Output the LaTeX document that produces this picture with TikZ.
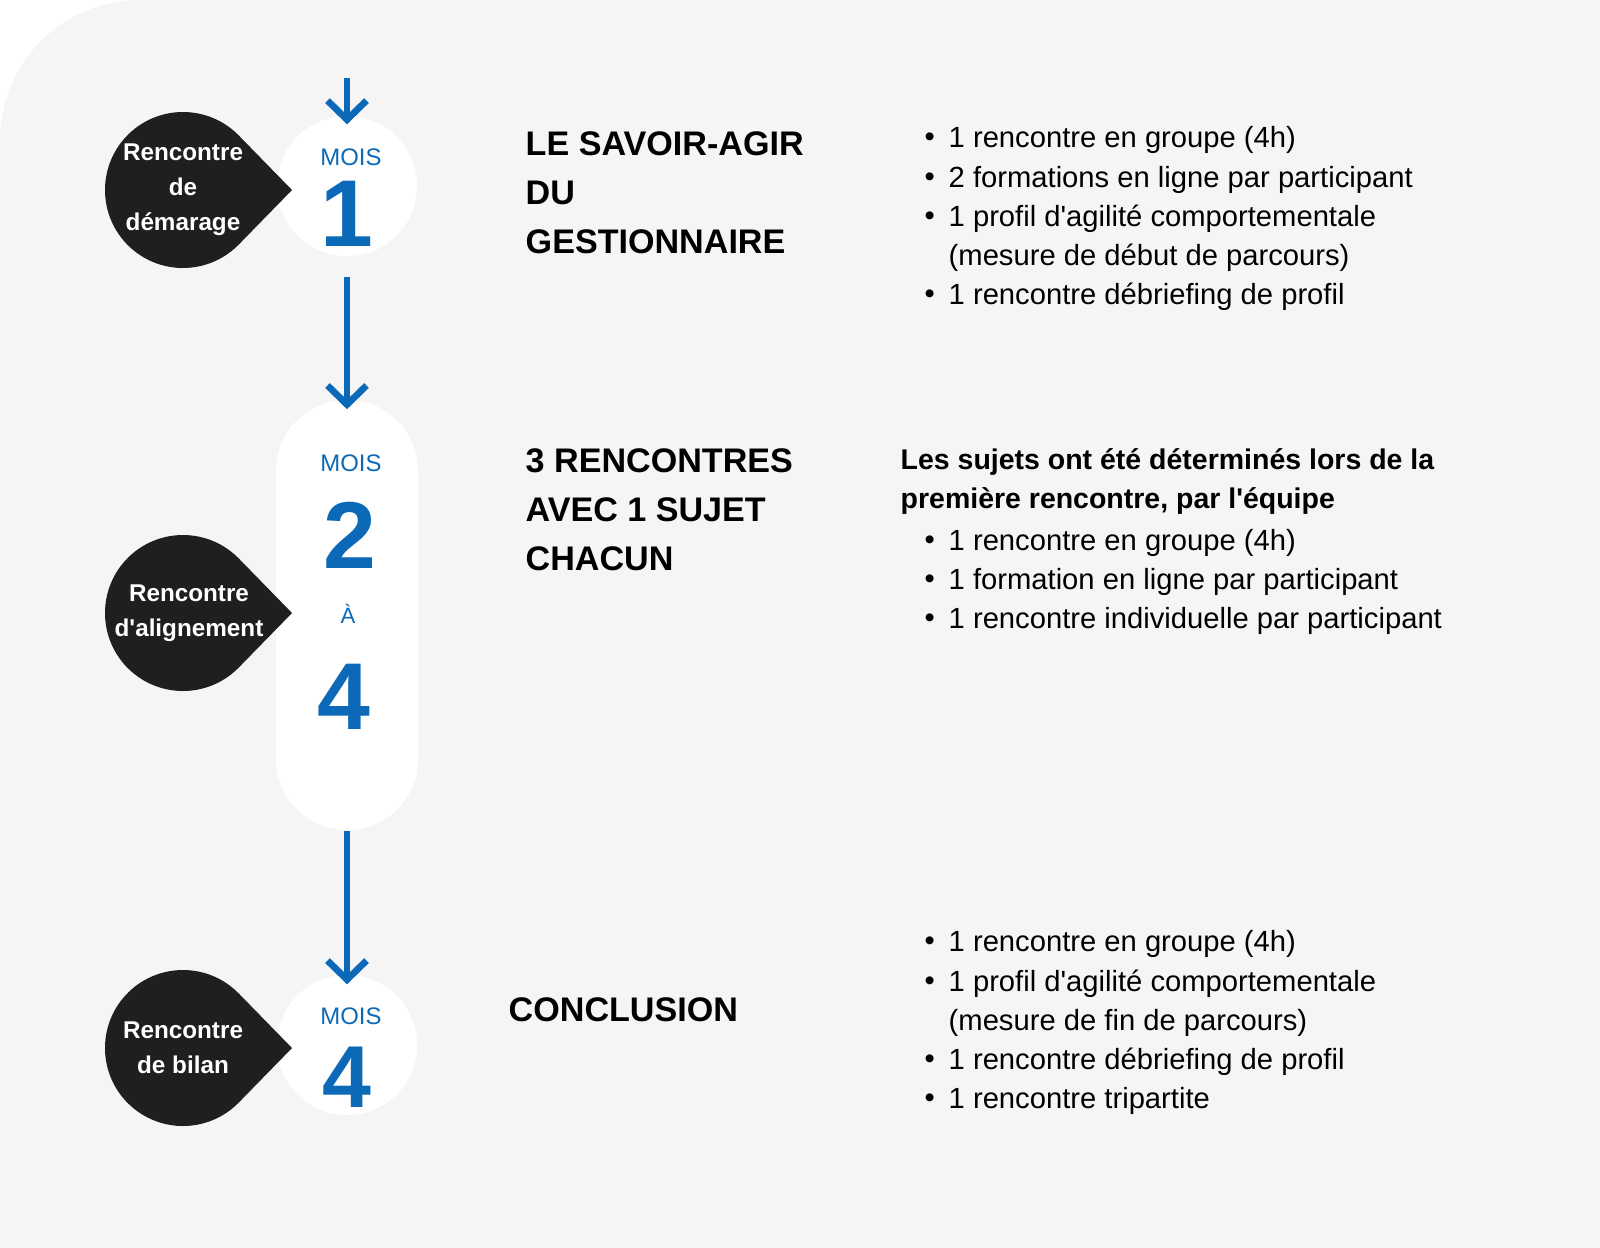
\documentclass[tikz,border=0pt]{standalone}
\usepackage{fontspec}
\setmainfont{Liberation Sans}
\usetikzlibrary{arrows.meta,calc}
\definecolor{bggray}{HTML}{F5F5F5}
\definecolor{moisblue}{HTML}{0B69B7}
\definecolor{dropdark}{HTML}{1F1F1F}
\newcommand{\apos}{\textquotesingle}
\newcommand{\dropshape}[2]{% name, y
	\fill[dropdark] (183,#2) ++(44:78) -- (292,#2) -- ($(183,#2)+(-44:78)$) arc (-44:-316:78) -- cycle;
	\coordinate (#1) at (183,#2);}
\begin{document}
\begin{tikzpicture}[x=0.01cm,y=-0.01cm,
	moisbox/.style={fill=white,draw=none,inner sep=0},
	flow/.style={draw=moisblue,line width=1.7pt,-{Straight Barb[length=1.9mm,width=3.9mm,line width=1.9pt]}},
	moislbl/.style={text=moisblue,font=\fontsize{6.8}{8}\selectfont},
	bignum/.style={text=moisblue,font=\fontsize{27}{27}\selectfont\bfseries},
	droplbl/.style={text=white,align=center,font=\fontsize{6.9}{10}\selectfont\bfseries},
	heading/.style={anchor=west,inner sep=0,align=left,font=\fontsize{9.7}{14}\selectfont\bfseries},
	item/.style={anchor=west,inner sep=0,font=\fontsize{8.3}{11.1}\selectfont}]
\useasboundingbox (0,0) rectangle (1600,1247);
%========================================
% Background
%========================================
\fill[white] (0,0) rectangle (1600,1247);
\fill[bggray,rounded corners=1.4cm] (0,1500) -- (0,0) -- (1800,0) -- (1800,1500) -- cycle;
%========================================
% Timeline
%========================================
\node[moisbox,circle,minimum size=1.4cm] (m1) at (347,186) {};
\node[moisbox,rounded corners=0.71cm,minimum width=1.42cm,minimum height=4.3cm] (m2) at (347,615) {};
\node[moisbox,circle,minimum size=1.4cm] (m3) at (347,1045) {};
\coordinate (start) at (347,78);
\draw[flow] (start) -- ([yshift=-0.09cm]m1.north);
\draw[flow,shorten <=2mm] (m1.south) -- ([yshift=-0.1cm]m2.north);
\draw[flow] (m2.south) -- ([yshift=-0.1cm]m3.north);
% Month labels
\node[moislbl] (mois1) at (351,157) {MOIS};
\node[bignum] (n1) at (347,214) {1};
\node[moislbl] (mois2) at (351,463) {MOIS};
\node[bignum] (n2) at (350,535) {2};
\node[moislbl,font=\fontsize{6.3}{8}\selectfont] (a2) at (348,614) {À};
\node[bignum] (n4) at (344,697) {4};
\node[moislbl] (mois3) at (351,1016) {MOIS};
\node[bignum,font=\fontsize{25}{25}\selectfont\bfseries] (n3) at (347,1077) {4};
%========================================
% Drops
%========================================
\dropshape{d1}{190}
\node[droplbl] at (d1) {Rencontre\\de\\démarage};
\dropshape{d2}{613}
\node[droplbl] at (189,613) {Rencontre\\d\apos alignement};
\dropshape{d3}{1048}
\node[droplbl] at (d3) {Rencontre\\de bilan};
%========================================
% Headings
%========================================
\node[heading] (h1) at (525,193) {LE SAVOIR-AGIR\\DU\\GESTIONNAIRE};
\node[heading] (h2) at (525,510) {3 RENCONTRES\\AVEC 1 SUJET\\CHACUN};
\node[heading] (h3) at (508,1010) {CONCLUSION};
%========================================
% Details
%========================================
\foreach \y/\t in {140/{1 rencontre en groupe (4h)},180/{2 formations en ligne par participant},
	219/{1 profil d\apos agilité comportementale},297/{1 rencontre débriefing de profil},
	543/{1 rencontre en groupe (4h)},582/{1 formation en ligne par participant},
	621/{1 rencontre individuelle par participant},
	944/{1 rencontre en groupe (4h)},984/{1 profil d\apos agilité comportementale},
	1062/{1 rencontre débriefing de profil},1101/{1 rencontre tripartite}}
	{\node[item] at (924,\y) {•};
	 \node[item] at (948,\y) {\t};}
\node[item] (c1) at (948,258) {(mesure de début de parcours)};
\node[item] (c3) at (948,1023) {(mesure de fin de parcours)};
\node[item,font=\fontsize{8.1}{11.1}\selectfont\bfseries] (s1) at (900,462) {Les sujets ont été déterminés lors de la};
\node[item,font=\fontsize{8.1}{11.1}\selectfont\bfseries] (s2) at (900,501) {première rencontre, par l\apos équipe};
\end{tikzpicture}
\end{document}
